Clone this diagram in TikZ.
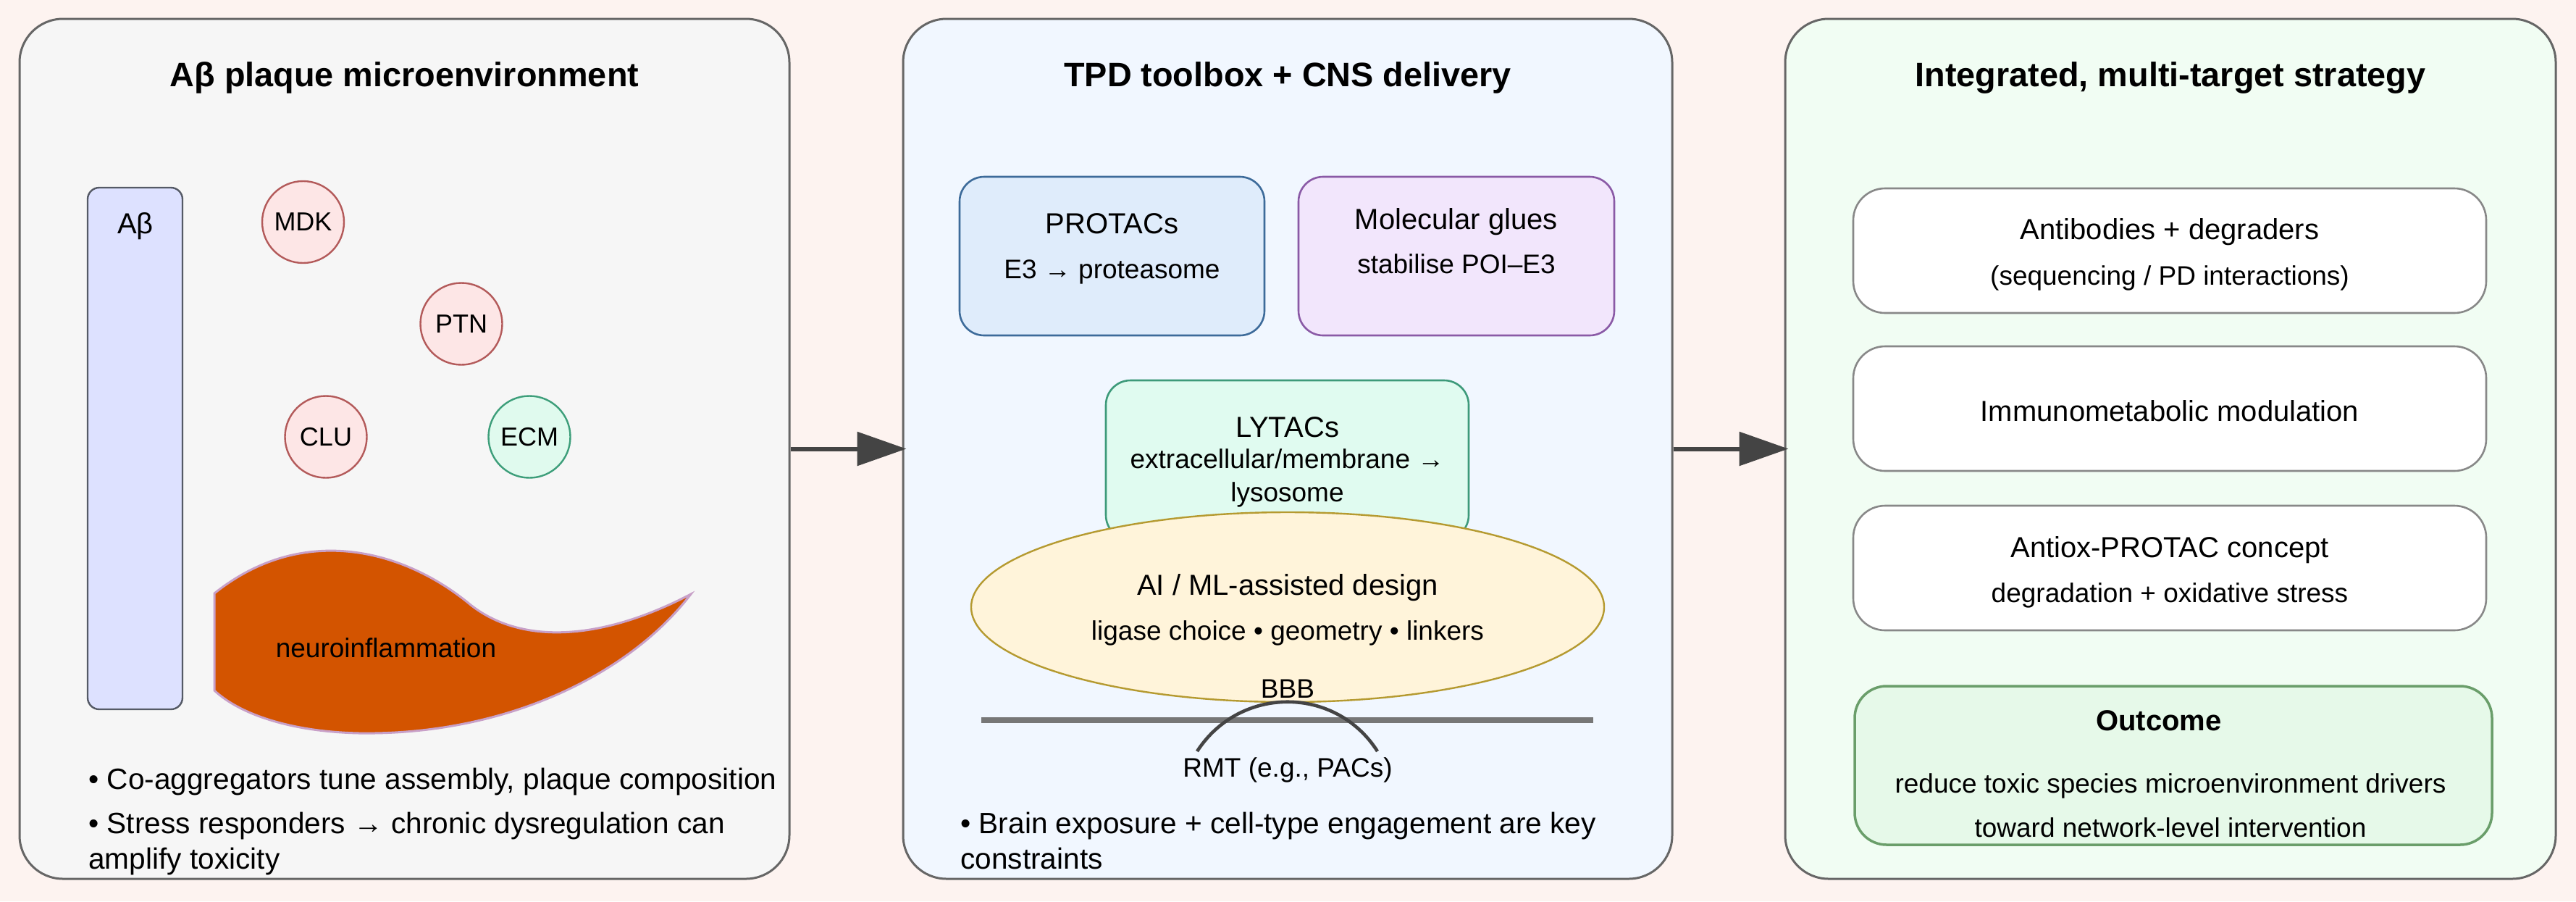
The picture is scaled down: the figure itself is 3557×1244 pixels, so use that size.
\documentclass[tikz,border=0pt]{standalone}
\usepackage{fontspec}
\setmainfont{Liberation Sans}
\usetikzlibrary{arrows.meta,shapes.geometric}
\definecolor{bgc}{HTML}{FDF3F0}
\definecolor{panelline}{HTML}{666666}
\definecolor{pone}{HTML}{F6F6F6}
\definecolor{ptwo}{HTML}{F1F7FF}
\definecolor{pthree}{HTML}{F1FDF3}
\definecolor{abfill}{HTML}{DDE1FF}
\definecolor{abline}{HTML}{555A66}
\definecolor{pinkfill}{HTML}{FDE6E6}
\definecolor{pinkline}{HTML}{B35A5A}
\definecolor{mintfill}{HTML}{E0FAEE}
\definecolor{mintline}{HTML}{3D9E7A}
\definecolor{inflfill}{HTML}{D35400}
\definecolor{inflline}{HTML}{C8A0C8}
\definecolor{protfill}{HTML}{DFECFB}
\definecolor{protline}{HTML}{3D6B9A}
\definecolor{gluefill}{HTML}{F2E6FC}
\definecolor{glueline}{HTML}{8A5AA6}
\definecolor{lytfill}{HTML}{E0FBF0}
\definecolor{lytline}{HTML}{3D9A7A}
\definecolor{aifill}{HTML}{FFF4DA}
\definecolor{ailine}{HTML}{B59A30}
\definecolor{bbbc}{HTML}{777777}
\definecolor{darkc}{HTML}{444444}
\definecolor{boxline}{HTML}{888888}
\definecolor{outfill}{HTML}{E6F9E9}
\definecolor{outline}{HTML}{6A9E6A}
\begin{document}
\begin{tikzpicture}[x=0.5pt,y=-0.5pt,
  panel/.style={draw=panelline, line width=1.5pt, rounded corners=30pt, minimum height=593.5pt, inner sep=0pt},
  ttl/.style={font=\fontsize{23.4}{27}\selectfont\bfseries, anchor=base, inner sep=0pt},
  lbl/.style={font=\fontsize{20}{24}\selectfont, anchor=base, inner sep=0pt},
  sub/.style={font=\fontsize{18.5}{22}\selectfont, anchor=base, inner sep=0pt},
  bul/.style={font=\fontsize{20.3}{24}\selectfont, anchor=base west, inner sep=0pt},
  molec/.style={circle, line width=1.2pt, minimum size=56.5pt, inner sep=0pt, font=\fontsize{18}{22}\selectfont},
  tbox/.style={rounded corners=17pt, line width=1.3pt, inner sep=0pt},
  sbox/.style={tbox, draw=boxline, fill=white, minimum width=437pt, minimum height=86pt, rounded corners=22pt},
  arr/.style={draw=darkc, line width=3pt, -{Triangle[length=34pt,width=23pt]}, shorten >=-3pt}
]
\fill[bgc] (0,0) rectangle (3557,1244);
\useasboundingbox (0,0) rectangle (3557,1244);

% panels
\node[panel, fill=pone, minimum width=531.5pt] (p1) at (558.5,619.5) {};
\node[panel, fill=ptwo, minimum width=531pt] (p2) at (1778,619.5) {};
\node[panel, fill=pthree, minimum width=532pt] (p3) at (2997,619.5) {};

\node[ttl] (t1) at (558.5,119) {Aβ plaque microenvironment};
\node[ttl] (t2) at (1778,119) {TPD toolbox + CNS delivery};
\node[ttl] (t3) at (2997,119) {Integrated, multi-target strategy};

% panel 1
\node[draw=abline, fill=abfill, line width=1.2pt, rounded corners=8pt, minimum width=65.5pt, minimum height=360pt, inner sep=0pt] (ab) at (186.5,619) {};
\node[lbl] (abl) at (187,322) {Aβ};
\node[molec, draw=pinkline, fill=pinkfill] (mdk) at (418.5,306.5) {MDK};
\node[molec, draw=pinkline, fill=pinkfill] (ptn) at (637,447) {PTN};
\node[molec, draw=pinkline, fill=pinkfill] (clu) at (450,603) {CLU};
\node[molec, draw=mintline, fill=mintfill] (ecm) at (731,603) {ECM};
\draw[fill=inflfill, draw=inflline, line width=1.5pt]
  (296,953) -- (296,819)
  .. controls (420,720) and (560,760) .. (650,835)
  .. controls (720,890) and (830,885) .. (954,820)
  .. controls (870,930) and (700,1015) .. (496,1012)
  .. controls (400,1010) and (330,985) .. (296,953) -- cycle;
\node[sub] (infl) at (533,907) {neuroinflammation};
\node[bul] (b1) at (122,1089) {• Co-aggregators tune assembly, plaque composition};
\node[bul] (b2) at (122,1150) {• Stress responders → chronic dysregulation can};
\node[bul] (b3) at (122,1199) {amplify toxicity};

% panel 2
\node[tbox, draw=protline, fill=protfill, minimum width=210.5pt, minimum height=109.5pt] (prot) at (1535.5,353.5) {};
\node[lbl] (protA) at (1535.5,322) {PROTACs};
\node[sub] (protB) at (1535.5,384) {E3 → proteasome};
\node[tbox, draw=glueline, fill=gluefill, minimum width=218pt, minimum height=109.5pt] (glue) at (2011,353.5) {};
\node[lbl] (glueA) at (2011,316) {Molecular glues};
\node[sub] (glueB) at (2011,377) {stabilise POI–E3};
\node[tbox, draw=lytline, fill=lytfill, minimum width=250.5pt, minimum height=110pt] (lyt) at (1777.5,635) {};
\node[lbl] (lytA) at (1777.5,603) {LYTACs};
\node[sub] (lytB) at (1777.5,646) {extracellular/membrane →};
\node[sub] (lytC) at (1777.5,692) {lysosome};
\node[ellipse, draw=ailine, fill=aifill, line width=1.2pt, minimum width=437pt, minimum height=131pt, inner sep=0pt] (ai) at (1778,838) {};
\node[lbl] (aiA) at (1778,821) {AI / ML-assisted design};
\node[sub] (aiB) at (1778,883) {ligase choice • geometry • linkers};
\coordinate (bbbL) at (1355,994);
\coordinate (bbbR) at (2200,994);
\draw[bbbc, line width=4pt] (bbbL) -- (bbbR);
\coordinate (rmtL) at (1653,1037);
\coordinate (rmtR) at (1902,1037);
\draw[darkc, line width=2.3pt] (rmtL) .. controls (1712,946) and (1844,946) .. (rmtR);
\node[sub] (bbb) at (1778,963) {BBB};
\node[sub] (rmt) at (1778,1072) {RMT (e.g., PACs)};
\node[bul] (b4) at (1326,1150) {• Brain exposure + cell-type engagement are key};
\node[bul] (b5) at (1326,1199) {constraints};

% panel 3
\node[sbox] (s1) at (2996,346) {};
\node[lbl] (s1A) at (2996,330) {Antibodies + degraders};
\node[sub] (s1B) at (2996,393) {(sequencing / PD interactions)};
\node[sbox] (s2) at (2996,564) {};
\node[lbl] (s2A) at (2996,581) {Immunometabolic modulation};
\node[sbox] (s3) at (2996,784) {};
\node[lbl] (s3A) at (2996,769) {Antiox-PROTAC concept};
\node[sub] (s3B) at (2996,831) {degradation + oxidative stress};
\node[draw=outline, fill=outfill, line width=1.75pt, rounded corners=22pt, minimum width=440pt, minimum height=109.5pt, inner sep=0pt] (out) at (3001,1056.5) {};
\node[lbl, font=\fontsize{20}{24}\selectfont\bfseries] (outA) at (2981,1008) {Outcome};
\node[sub] (outB) at (2997,1094) {reduce toxic species microenvironment drivers};
\node[sub] (outC) at (2997,1155) {toward network-level intervention};

% arrows
\draw[arr] (p1.east) -- (p2.west);
\draw[arr] (p2.east) -- (p3.west);
\end{tikzpicture}
\end{document}
